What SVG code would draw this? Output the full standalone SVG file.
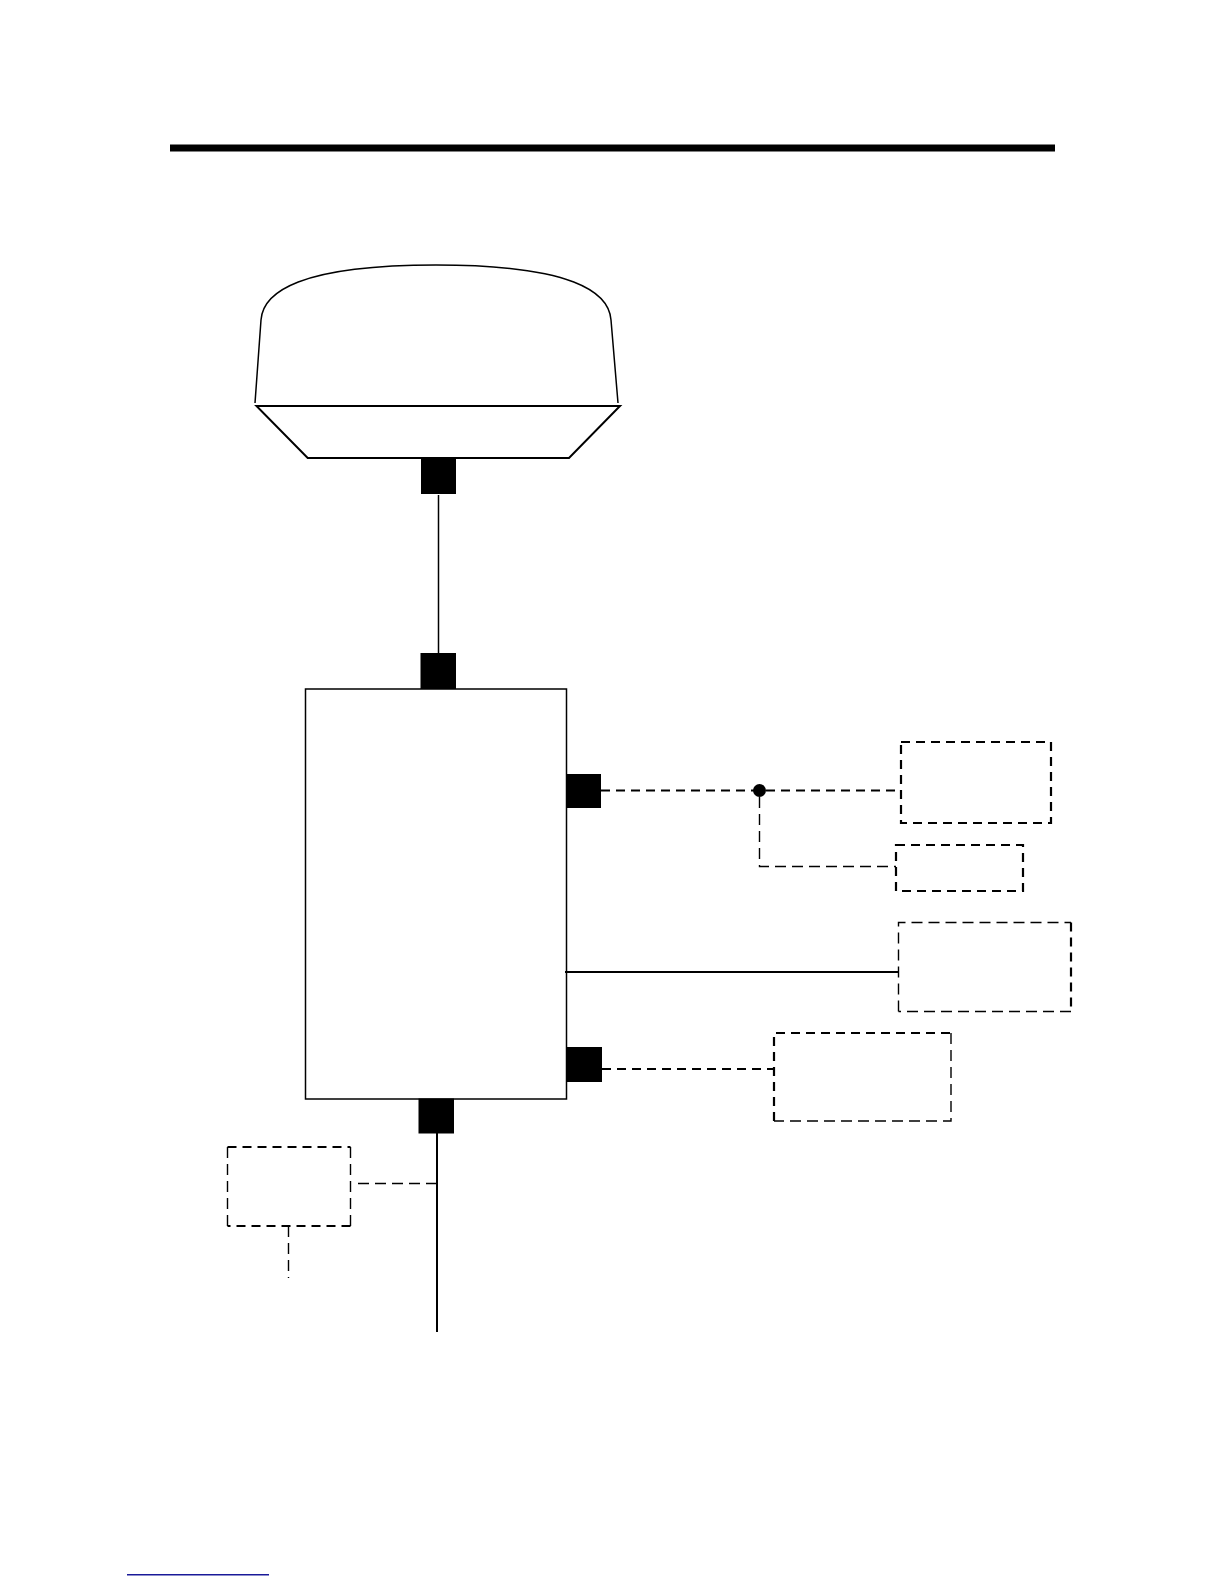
<svg xmlns="http://www.w3.org/2000/svg" width="1224" height="1584" viewBox="0 0 1224 1584">
<style>
.s{fill:none;stroke:#000;stroke-width:1.5}
.w{fill:none;stroke:#000;stroke-width:2}
.p{fill:#000}
.d2{fill:none;stroke:#000;stroke-width:2.2;stroke-dasharray:9 6}
.d1{fill:none;stroke:#000;stroke-width:1.4;stroke-dasharray:11 6}
</style>
<rect width="1224" height="1584" fill="#fff"/>
<rect id="title-rule" x="170" y="144.500" width="885" height="7" fill="#000"/>
<rect id="footer-rule" x="127" y="1574" width="142" height="1.500" fill="#1a1a99"/>
<g id="connectors">
<path class="s" d="M438.500 495V653"/>
<path class="d2" d="M601 790.500H900.500"/>
<path class="d1" d="M759.500 797V866.500H896"/>
<path class="w" d="M565 972H898"/>
<path class="d2" d="M602 1069H774"/>
<path class="w" d="M437 1133V1332"/>
<path class="d1" d="M437 1183.500H354"/>
<path class="d1" d="M288.500 1226V1278"/>
</g>
<g id="radome">
<path class="s" d="M255 403L261 320C263 292 300 265 436 265C572 265 609 292 611 320L618 403"/>
<path class="w" d="M256.500 406H620L569 458H307.700Z"/>
</g>
<rect id="radome-port" class="p" x="421" y="458" width="35" height="36"/>
<g id="main-unit">
<rect class="s" x="305.500" y="689" width="261" height="410"/>
</g>
<rect id="port-top" class="p" x="420.500" y="653" width="35.500" height="36"/>
<rect id="port-right-1" class="p" x="566" y="774" width="35" height="34"/>
<rect id="port-right-2" class="p" x="566" y="1047" width="36" height="35"/>
<rect id="port-bottom" class="p" x="418.500" y="1098.500" width="35.500" height="35"/>
<circle id="junction" class="p" cx="759.500" cy="790.500" r="6.500"/>
<g id="box-a"><rect class="d2" x="901" y="742" width="150" height="81"/></g>
<g id="box-b"><rect class="d2" x="896" y="845" width="127" height="46"/></g>
<g id="box-c"><path class="d1" d="M898.500 1011.500V922.500H1071"/><path class="d2" d="M1071 922.500V1011.500"/><path class="d1" d="M1071 1011.500H898.500"/></g>
<g id="box-d"><path class="d2" d="M774 1121V1033H951"/><path class="d1" d="M951 1033V1121H774"/></g>
<g id="box-e"><path class="d2" d="M227.500 1147H350.500"/><path class="d1" d="M350.500 1147V1226"/><path class="d2" d="M350.500 1226H227.500"/><path class="d1" d="M227.500 1226V1147"/></g>
</svg>
